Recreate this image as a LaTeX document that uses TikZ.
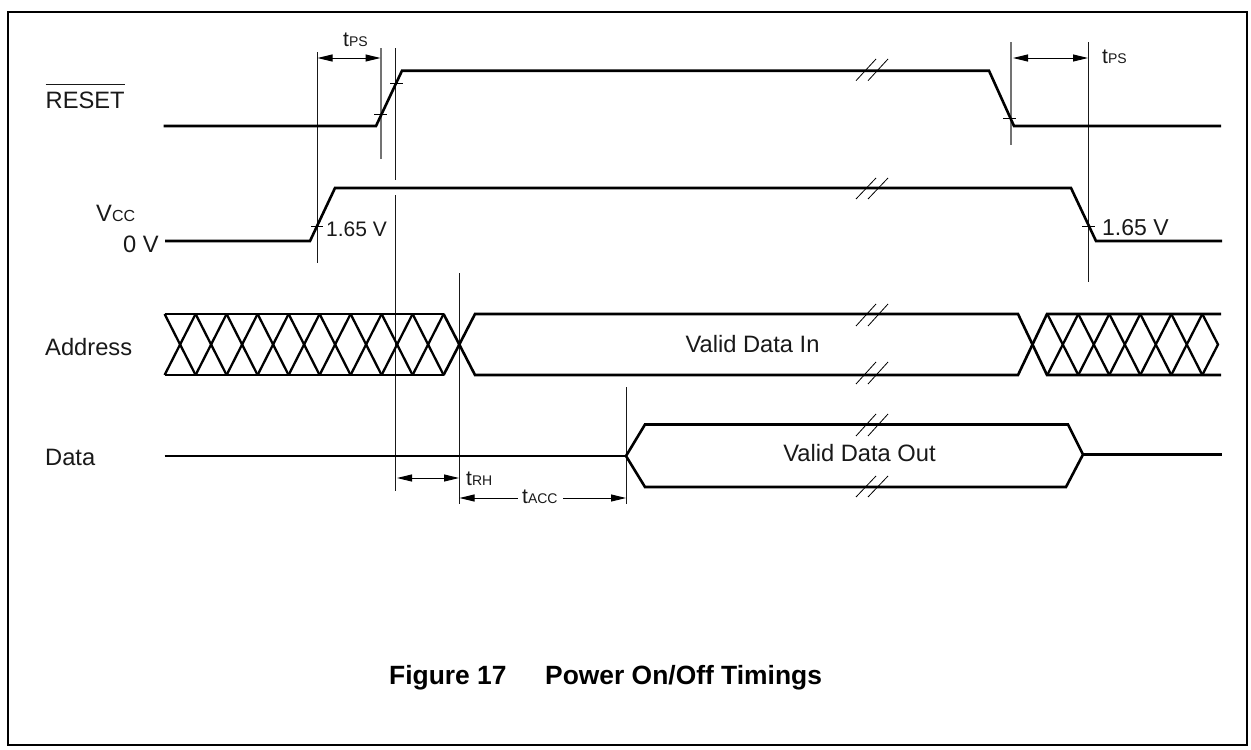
\documentclass[tikz,border=0pt]{standalone}
\usepackage{fontspec}
\setmainfont{Liberation Sans}
\usetikzlibrary{arrows.meta}
\newcommand{\lbl}[2]{{\fontsize{21pt}{23pt}\selectfont #1\fontsize{14pt}{16pt}\selectfont #2}}
\tikzset{
  x=1pt,y=-1pt,
  frameline/.style={line width=2pt,black},
  signal/.style={line width=2.6pt,black,line join=miter},
  crossline/.style={line width=2.3pt,black,line join=miter},
  guide/.style={line width=1pt,black!90},
  guidegray/.style={line width=1.3pt,black!55},
  tickmark/.style={line width=0.8pt,black},
  dimline/.style={line width=1pt,black,{Triangle[length=15pt,width=7pt]}-{Triangle[length=15pt,width=7pt]}},
  dimleft/.style={line width=1pt,black,{Triangle[length=15pt,width=7pt]}-},
  dimright/.style={line width=1pt,black,-{Triangle[length=15pt,width=7pt]}},
  txt/.style={inner sep=0pt,font=\fontsize{23.7pt}{25pt}\selectfont,text=black!90},
  captiontxt/.style={inner sep=0pt,font=\fontsize{26.4pt}{30pt}\selectfont\bfseries},
}
\begin{document}
\begin{tikzpicture}
\useasboundingbox (0,0) rectangle (1251,750);
\fill[white] (0,0) rectangle (1251,750);
\draw[frameline] (7.7,12) rectangle (1247,745);

% guides
\draw[guide] (317,52) -- (317,263);
\draw[guidegray] (381,48) -- (381,159);
\draw[guide] (395.5,48) -- (395.5,180);
\draw[guide] (395.5,195) -- (395.5,491);
\draw[guide] (459,273) -- (459,504);
\draw[guide] (626,387) -- (626,504);
\draw[guidegray] (1011,42) -- (1011,145);
\draw[guide] (1088,42) -- (1088,282);

% RESET
\draw[signal] (163.5,126) -- (376,126) -- (402,70.7) -- (989,70.7) -- (1014,126) -- (1221,126);
% VCC
\draw[signal] (165,241) -- (310,241) -- (335,188) -- (1071,188) -- (1096,241) -- (1222,241);
% Address
\draw[signal] (164.6,314) -- (443.6,314);
\draw[signal] (164.6,375) -- (443.6,375);
\foreach \i in {0,...,8} {
  \pgfmathsetmacro{\xa}{164.6+31*\i}
  \pgfmathsetmacro{\xb}{164.6+31*(\i+1)}
  \draw[crossline] (\xa,314) -- (\xb,375);
  \draw[crossline] (\xa,375) -- (\xb,314);
}
\draw[signal] (443.6,314) -- (475,375) -- (1018,375) -- (1047,314) -- (1221,314);
\draw[signal] (443.6,375) -- (475,314) -- (1018,314) -- (1047,375) -- (1221,375);
\foreach \i in {0,...,4} {
  \pgfmathsetmacro{\xa}{1047.3+31*\i}
  \pgfmathsetmacro{\xb}{1047.3+31*(\i+1)}
  \draw[crossline] (\xa,314) -- (\xb,375);
  \draw[crossline] (\xa,375) -- (\xb,314);
}
\draw[crossline] (1202.3,314) -- (1218,344.5) -- (1202.3,375);
% Data
\draw[signal] (164.6,456) -- (626,456);
\draw[signal] (645,424.5) -- (626,456) -- (645,487) -- (1066,487) -- (1083,454.5) -- (1068,424.5) -- cycle;
\draw[signal] (1083,454.5) -- (1222,454.5);

% ticks
\draw[tickmark] (374,114) -- (387,114);
\draw[tickmark] (390,83) -- (403,83);
\draw[tickmark] (311,226) -- (323,226);
\draw[tickmark] (1003,118) -- (1016,118);
\draw[tickmark] (1082,226) -- (1095,226);

% break marks
\foreach \ya/\yb in {80.7/59,199/178,326/304,384/362,436/414,497/476} {
  \draw[tickmark] (856,\ya) -- (876,\yb);
  \draw[tickmark] (868,\ya) -- (888,\yb);
}

% dimensions
\draw[dimline] (317.5,58) -- (380.5,58);
\draw[dimline] (1013,58) -- (1088,58);
\draw[dimline] (397,478) -- (459,478);
\draw[dimleft] (459.5,498) -- (518,498);
\draw[dimright] (563,498) -- (626,498);

% labels
\node[txt,anchor=west] (reset) at (45.5,100) {RESET};
\draw[line width=1pt,black!90] ([yshift=7pt]reset.north west) -- ([yshift=7pt]reset.north east);
\node[txt,anchor=west] (vcc) at (96,213) {V{\fontsize{16pt}{18pt}\selectfont CC}};
\node[txt,anchor=west] (zero) at (123,244) {0 V};
\node[txt,anchor=west,font=\fontsize{21pt}{23pt}\selectfont] (vl) at (326,229) {1.65 V};
\node[txt,anchor=west,font=\fontsize{23pt}{25pt}\selectfont] (vr) at (1102,228) {1.65 V};
\node[txt,anchor=west] (addr) at (45,347) {Address};
\node[txt,anchor=west] (data) at (45,457) {Data};
\node[txt] (vin) at (752.5,344) {Valid Data In};
\node[txt] (vout) at (859.5,453) {Valid Data Out};
\node[txt,anchor=west] (tps1) at (343,40) {\lbl{t}{PS}};
\node[txt,anchor=west] (tps2) at (1102,57) {\lbl{t}{PS}};
\node[txt,anchor=west] (trh) at (466,479) {\lbl{t}{RH}};
\node[txt,anchor=west] (tacc) at (522,497) {\lbl{t}{ACC}};
\node[captiontxt,anchor=west] (fig) at (389,678) {Figure 17};
\node[captiontxt,anchor=west] (tit) at (545,678) {Power On/Off Timings};
\end{tikzpicture}
\end{document}
